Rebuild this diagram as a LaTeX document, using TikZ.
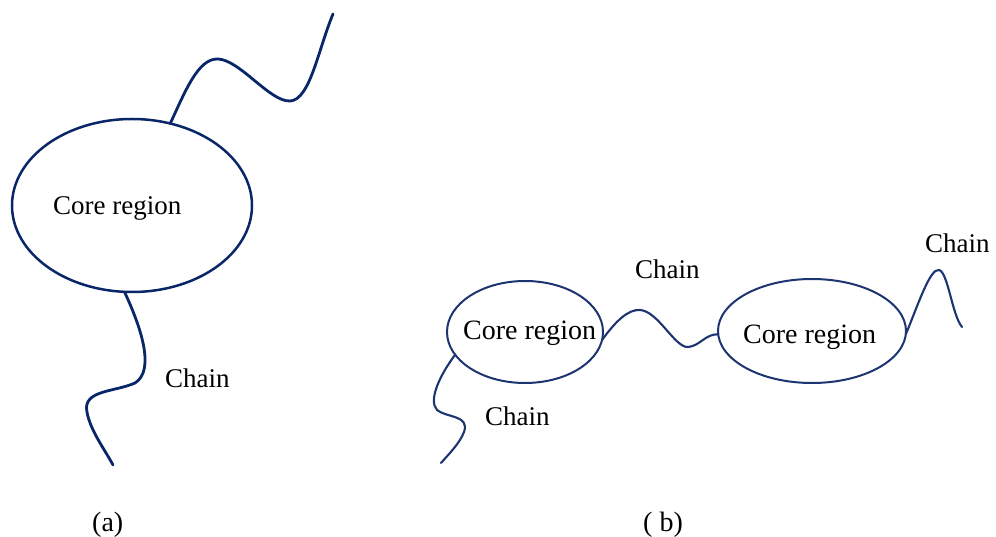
\documentclass[tikz,border=0pt]{standalone}
\usepackage{fontspec}
\setmainfont{Liberation Serif}
\usetikzlibrary{shapes.geometric}
\definecolor{navya}{RGB}{8,38,104}
\definecolor{navyb}{RGB}{28,52,112}
\tikzset{
  corea/.style={ellipse,draw=navya,line width=2.5pt,inner sep=0pt,outer sep=0pt},
  coreb/.style={ellipse,draw=navyb,line width=2pt,inner sep=0pt,outer sep=0pt},
  chaina/.style={draw=navya,line width=2.8pt,line cap=round},
  chainb/.style={draw=navyb,line width=2.1pt,line cap=round},
  lbl/.style={anchor=base west,inner sep=0pt,font=\fontsize{27}{30}\selectfont},
  lblb/.style={lbl,font=\fontsize{28}{31}\selectfont}
}
\begin{document}
\begin{tikzpicture}[x=1pt,y=-1pt]
\useasboundingbox (0,0) rectangle (996,537);
% (a)
\node[corea,minimum width=240pt,minimum height=173pt] (ea) at (132,205.5) {};
\node[lbl] (ta) at (53,215) {Core region};
\node[lbl] (tca) at (165,387) {Chain};
\node[lblb] (capa) at (92,531) {(a)};
\draw[chaina] (ea.65) .. controls (185,92) and (198,58) .. (218,59)
  .. controls (240,60) and (270,102) .. (290,101)
  .. controls (310,100) and (318,50) .. (333,14);
\draw[chaina] (ea.-95) .. controls (140,325) and (156,370) .. (135,383)
  .. controls (115,392) and (82,390) .. (87,412)
  .. controls (90,430) and (105,450) .. (113,465);
% (b)
\node[coreb,minimum width=156pt,minimum height=102pt] (eb1) at (525,332) {};
\node[coreb,minimum width=188pt,minimum height=104pt] (eb2) at (812,331) {};
\node[lblb] (tb1) at (463,339) {Core region};
\node[lblb] (tb2) at (743,343) {Core region};
\node[lbl] (tcl) at (485,425) {Chain};
\node[lbl] (tcm) at (635,279) {Chain};
\node[lbl] (tcr) at (925,253) {Chain};
\node[lblb] (capb) at (643,531) {( b)};
\draw[chainb] (eb1.198) .. controls (440,375) and (428,400) .. (437,410)
  .. controls (447,418) and (470,415) .. (464,432)
  .. controls (460,443) and (448,455) .. (441,463);
\draw[chainb] (eb1.-6) .. controls (615,322) and (628,309) .. (640,310)
  .. controls (658,311) and (675,348) .. (688,347)
  .. controls (700,346) and (705,334) .. (eb2.182);
\draw[chainb] (eb2.-2) .. controls (918,305) and (930,268) .. (939,270)
  .. controls (948,272) and (952,315) .. (962,327);
\end{tikzpicture}
\end{document}
